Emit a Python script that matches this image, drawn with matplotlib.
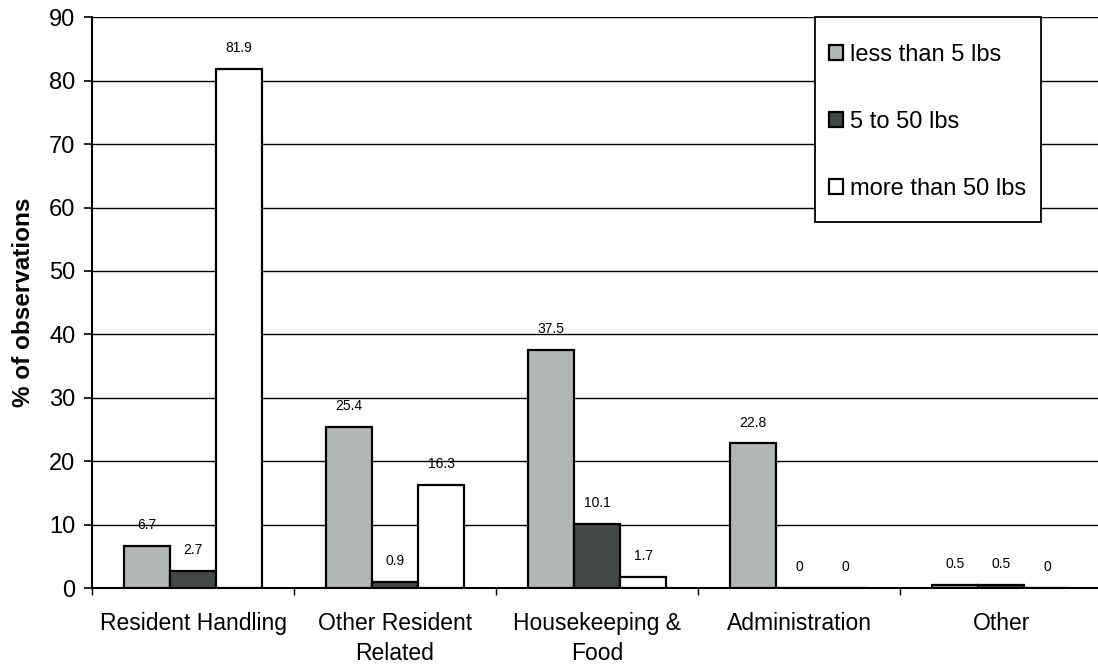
import matplotlib.pyplot as plt
from matplotlib.patches import Rectangle
import numpy as np

plt.rcParams['font.family'] = ['Liberation Sans', 'DejaVu Sans']

categories = ["Resident Handling", "Other Resident\nRelated", "Housekeeping &\nFood",
              "Administration", "Other"]
series_names = ["less than 5 lbs", "5 to 50 lbs", "more than 50 lbs"]
less_than_5 = [6.7, 25.4, 37.5, 22.8, 0.5]
from_5_to_50 = [2.7, 0.9, 10.1, 0, 0.5]
more_than_50 = [81.9, 16.3, 1.7, 0, 0]
y_ticks = [0, 10, 20, 30, 40, 50, 60, 70, 80, 90]

colors = ['#b2b7b5', '#434846', 'white']
values = [less_than_5, from_5_to_50, more_than_50]

fig = plt.figure(figsize=(10.98, 6.66), dpi=100)
ax = fig.add_axes([0.0838, 0.117, 0.92, 0.857])

x = np.arange(len(categories))
w = 0.228
for k in range(3):
    xs = x + (k - 1) * w
    ax.bar(xs, values[k], width=w, color=colors[k], edgecolor='black',
           linewidth=1.6, label=series_names[k], zorder=3)
    for xi, v in zip(xs, values[k]):
        ax.annotate(f"{v:g}", (xi, v), xytext=(0, 10), textcoords='offset points',
                    ha='center', va='bottom', fontsize=10)

ax.set_xlim(-0.5, len(categories) - 0.5)
ax.set_ylim(0, 90)
ax.set_yticks(y_ticks)
ax.tick_params(axis='y', labelsize=17, direction='out', length=6, width=1.2, pad=6)
ax.yaxis.grid(True, color='black', linewidth=1.0, zorder=0)
ax.set_axisbelow(True)

ax.set_xticks(x)
ax.set_xticklabels(categories, fontsize=16.5, linespacing=1.4)
ax.tick_params(axis='x', length=0, pad=17)
ax.set_xticks(np.arange(len(categories) + 1) - 0.5, minor=True)
ax.tick_params(axis='x', which='minor', length=5, width=1.0, direction='out')

for s in ['top', 'right']:
    ax.spines[s].set_visible(False)
ax.spines['left'].set_linewidth(1.5)
ax.spines['bottom'].set_linewidth(1.5)

ax.set_ylabel("% of observations", fontsize=17.5, fontweight='bold', labelpad=10)

# legend box drawn by hand so the padding can differ horizontally/vertically
box = Rectangle((0.716, 0.641), 0.223, 0.359, transform=ax.transAxes,
                facecolor='white', edgecolor='black', linewidth=1.3, zorder=5,
                clip_on=False)
ax.add_patch(box)
leg = ax.legend(loc='center', bbox_to_anchor=(0.716 + 0.223 / 2, 0.641 + 0.359 / 2 - 0.004),
                frameon=False, fontsize=17, borderpad=0, borderaxespad=0,
                handlelength=0.6, handleheight=0.6, handletextpad=0.3,
                labelspacing=1.9)
leg.set_zorder(6)

plt.savefig('out.png', dpi=100)
